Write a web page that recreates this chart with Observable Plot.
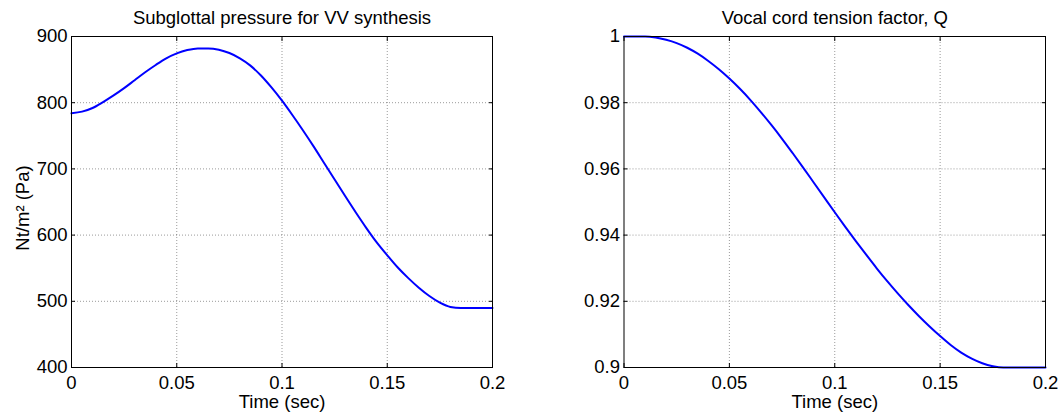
<!DOCTYPE html>
<html>
<head>
<meta charset="utf-8">
<script src="https://cdn.jsdelivr.net/npm/d3@7"></script>
<script src="https://cdn.jsdelivr.net/npm/@observablehq/plot@0.6"></script>
<style>
  html, body { margin: 0; padding: 0; background: #fff; }
  #wrap { position: relative; width: 1061px; height: 414px; overflow: hidden; background: #fff; }
  #wrap svg { position: absolute; top: 0; }
</style>
</head>
<body>
<div id="wrap"></div>
<script>
// ---- Data ----
const time = [0, 0.005, 0.01, 0.015, 0.02, 0.025, 0.03, 0.035, 0.04, 0.045,
              0.05, 0.055, 0.06, 0.065, 0.07, 0.075, 0.08, 0.085, 0.09, 0.095,
              0.1, 0.105, 0.11, 0.115, 0.12, 0.125, 0.13, 0.135, 0.14, 0.145,
              0.15, 0.155, 0.16, 0.165, 0.17, 0.175, 0.18, 0.185, 0.19, 0.195, 0.2];

const pressure = [784, 786.5, 792, 801, 811, 822, 834, 846, 857, 867,
                  874.5, 879.5, 882, 882, 880, 875, 867, 856, 841, 823,
                  803, 781, 758, 734, 709, 684, 659, 634.5, 611, 589,
                  569.5, 551, 535, 520.5, 508, 498, 491.5, 490, 490, 490, 490];

const tension = [1.0, 1.0, 1.0, 0.9997, 0.9990, 0.9980, 0.9966, 0.9948, 0.9926, 0.9901,
                 0.9873, 0.9842, 0.9808, 0.9771, 0.9732, 0.9691, 0.9648, 0.9604, 0.9559, 0.9514,
                 0.9469, 0.9425, 0.9382, 0.9340, 0.9299, 0.9260, 0.9223, 0.9188, 0.9155, 0.9124,
                 0.9095, 0.9068, 0.9045, 0.9027, 0.9013, 0.9004, 0.9000, 0.9, 0.9, 0.9, 0.9];

const xTicks = [0, 0.05, 0.1, 0.15, 0.2];
const pressureTicks = [400, 500, 600, 700, 800, 900];
const tensionTicks = [0.9, 0.92, 0.94, 0.96, 0.98, 1];

const titles = ["Subglottal pressure for VV synthesis", "Vocal cord tension factor, Q"];
const xLabel = "Time (sec)";
const yLabelLeft = "Nt/m\u00B2 (Pa)";

// ---- Drawing ----
const FONT = "'Liberation Sans', Arial, Helvetica, sans-serif";
const FS = 18.5;

function panel({values, yTicks, title, ylabel, width, marginLeft, marginRight, left}) {
  const data = time.map((t, i) => ({t, v: values[i]}));
  const yDomain = [yTicks[0], yTicks[yTicks.length - 1]];
  const inner = (arr) => arr.slice(1, -1);
  const gridStyle = {stroke: "#000", strokeOpacity: 0.4, strokeDasharray: "1,2", strokeWidth: 1};
  const marks = [
    Plot.gridX(inner(xTicks), gridStyle),
    Plot.gridY(inner(yTicks), gridStyle),
    Plot.axisX(xTicks, {anchor: "bottom", tickSize: -4, tickPadding: 12, tickFormat: d => String(d), label: null, fontSize: FS}),
    Plot.axisX(xTicks, {anchor: "top", tickSize: -4, tickFormat: () => "", label: null}),
    Plot.axisY(yTicks, {anchor: "left", tickSize: -4, tickPadding: 8, tickFormat: d => String(d), label: null, fontSize: FS}),
    Plot.axisY(yTicks, {anchor: "right", tickSize: -4, tickFormat: () => "", label: null}),
    Plot.line(data, {x: "t", y: "v", stroke: "#0000ff", strokeWidth: 2, curve: "monotone-x"}),
    Plot.frame({stroke: "#000", strokeWidth: 1}),
    Plot.text([title], {text: d => d, frameAnchor: "top", textAnchor: "middle", lineAnchor: "bottom", dy: -13, fontSize: FS}),
    Plot.text([xLabel], {text: d => d, frameAnchor: "bottom", textAnchor: "middle", lineAnchor: "top", dy: 27, fontSize: FS})
  ];
  if (ylabel) {
    marks.push(Plot.text([ylabel], {text: d => d, frameAnchor: "left", rotate: -90, textAnchor: "middle", lineAnchor: "bottom", dx: -42.5, dy: 6, fontSize: FS}));
  }
  const svg = Plot.plot({
    width, height: 414,
    marginLeft, marginRight, marginTop: 36, marginBottom: 47,
    x: {domain: [0, 0.2]},
    y: {domain: yDomain},
    style: {fontFamily: FONT, fontSize: FS + "px", color: "#000", background: "transparent", overflow: "visible"},
    marks
  });
  svg.style.left = left + "px";
  return svg;
}

const wrap = document.getElementById("wrap");
wrap.appendChild(panel({values: pressure, yTicks: pressureTicks, title: titles[0], ylabel: yLabelLeft,
                        width: 530, marginLeft: 71, marginRight: 38, left: 0}));
wrap.appendChild(panel({values: tension, yTicks: tensionTicks, title: titles[1], ylabel: null,
                        width: 531, marginLeft: 93.5, marginRight: 16, left: 530}));
</script>
</body>
</html>
